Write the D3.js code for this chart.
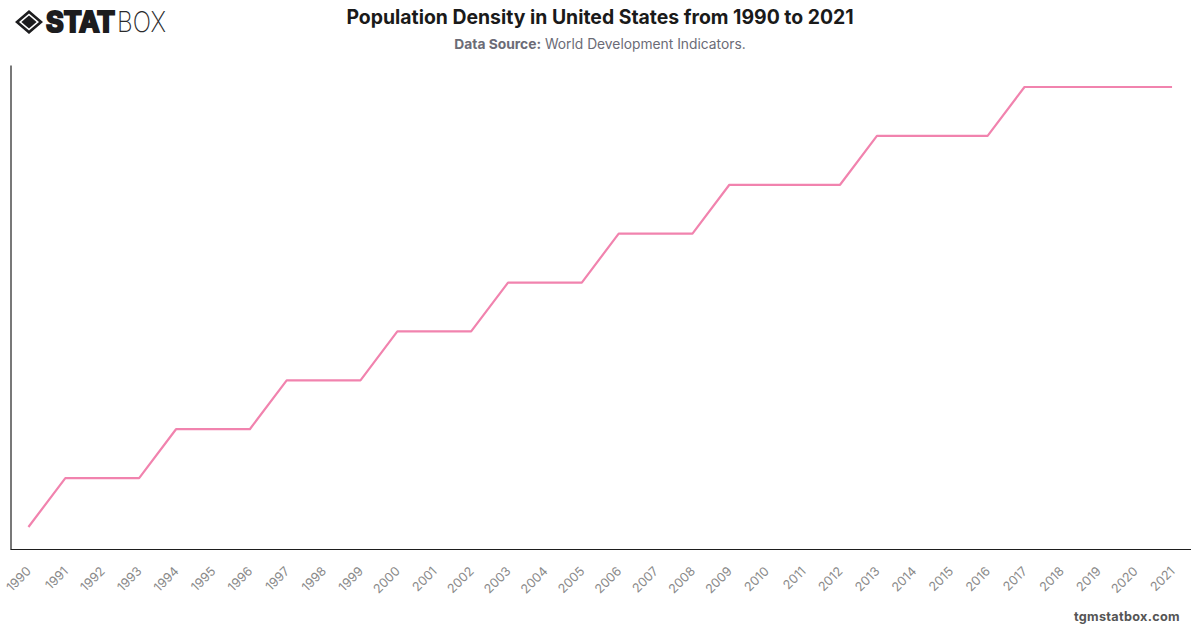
<!DOCTYPE html>
<html>
<head>
<meta charset="utf-8">
<script src="https://cdn.jsdelivr.net/npm/d3@7"></script>
<style>
  html, body { margin: 0; padding: 0; background: #fff; }
  svg { display: block; }
  text { font-family: Inter, "Noto Sans", sans-serif; }
</style>
</head>
<body>
<svg id="chart" width="1200" height="628"></svg>
<script>
// Population density, people per sq. km of land, rounded as published
const years = [1990,1991,1992,1993,1994,1995,1996,1997,1998,1999,2000,2001,2002,2003,2004,2005,
               2006,2007,2008,2009,2010,2011,2012,2013,2014,2015,2016,2017,2018,2019,2020,2021];
const density = [27,28,28,28,29,29,29,30,30,30,31,31,31,32,32,32,
                 33,33,33,34,34,34,34,35,35,35,35,36,36,36,36,36];
const densityDomain = [26.55, 36.45];

const titleText = "Population Density in United States from 1990 to 2021";
const sourceLabel = "Data Source:";
const sourceText = " World Development Indicators.";
const siteText = "tgmstatbox.com";

const svg = d3.select("#chart");
const plot = { left: 10.5, right: 1190, top: 65, bottom: 549 };

const x = d3.scalePoint().domain(years).range([plot.left - 0.5, plot.right + 0.5]).padding(0.5);
const y = d3.scaleLinear().domain(densityDomain).range([plot.bottom, plot.top]);

// Axes: baseline and left rule only, no tick marks
const xAxis = svg.append("g")
  .attr("transform", `translate(0,${plot.bottom})`)
  .call(d3.axisBottom(x).tickSize(0).tickPadding(0));
xAxis.select(".domain").attr("stroke", "#1e1e1e").attr("stroke-width", 1.2);
xAxis.selectAll("text")
  .attr("fill", "#8a8a8a")
  .attr("font-size", 12.6)
  .attr("text-anchor", "end")
  .attr("dy", 0)
  .attr("y", 0)
  .attr("transform", "translate(3,23) rotate(-45)");

const yAxis = svg.append("g")
  .attr("transform", `translate(${plot.left},0)`)
  .call(d3.axisLeft(y).tickSize(0).tickFormat(""));
yAxis.select(".domain").attr("stroke", "#1e1e1e").attr("stroke-width", 1.2);

// Density series
const line = d3.line().x((d, i) => x(years[i])).y(d => y(d));
svg.append("path")
  .datum(density)
  .attr("fill", "none")
  .attr("stroke", "#f183ae")
  .attr("stroke-width", 2.2)
  .attr("stroke-linejoin", "round")
  .attr("d", line);

// Heading
svg.append("text")
  .attr("x", 600).attr("y", 24)
  .attr("text-anchor", "middle")
  .attr("font-size", 19.4).attr("font-weight", 700).attr("fill", "#1a1a1a")
  .text(titleText);

const source = svg.append("text")
  .attr("x", 600).attr("y", 49)
  .attr("text-anchor", "middle")
  .attr("font-size", 13.8).attr("fill", "#6b6b76");
source.append("tspan").attr("font-weight", 700).text(sourceLabel);
source.append("tspan").text(sourceText);

svg.append("text")
  .attr("x", 1180).attr("y", 621)
  .attr("text-anchor", "end")
  .attr("font-size", 12.7).attr("font-weight", 700).attr("fill", "#555")
  .attr("letter-spacing", 0.3)
  .text(siteText);

// Wordmark: diamond emblem with heavy and light lettering
const logo = svg.append("g").attr("transform", "translate(29,22)");
logo.append("path")
  .attr("d", "M0,-12 L14,0 L0,12 L-14,0 Z M0,-8.5 L-10,0 L0,8.5 L10,0 Z")
  .attr("fill", "#1c1c1e").attr("fill-rule", "evenodd");
logo.append("path").attr("d", "M0,-6.5 L7.6,0 L0,6.5 L-7.6,0 Z").attr("fill", "#1c1c1e");
svg.append("text")
  .attr("x", 46).attr("y", 32)
  .attr("font-family", "'Liberation Sans', sans-serif")
  .attr("font-size", 28).attr("font-weight", 700).attr("fill", "#1c1c1e")
  .attr("stroke", "#1c1c1e").attr("stroke-width", 2.2)
  .attr("textLength", 69).attr("lengthAdjust", "spacingAndGlyphs")
  .text("STAT");
svg.append("text")
  .attr("x", 117).attr("y", 32)
  .attr("font-size", 28).attr("font-weight", 200).attr("fill", "#2a2a2c")
  .attr("textLength", 49).attr("lengthAdjust", "spacingAndGlyphs")
  .text("BOX");
</script>
</body>
</html>
